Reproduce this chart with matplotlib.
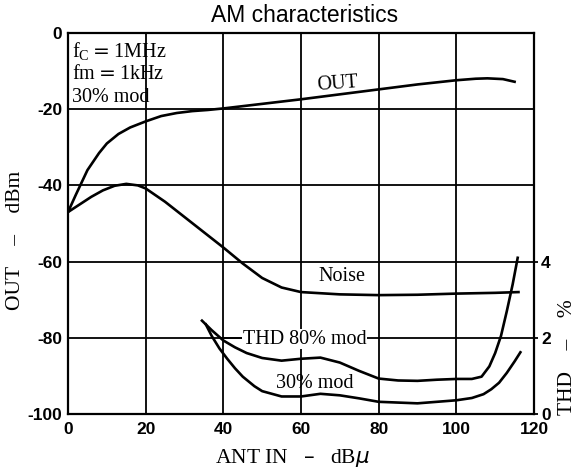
import matplotlib
matplotlib.use("Agg")
import matplotlib.pyplot as plt

# ---- data ----
out_x = [0, 2, 5, 8, 10, 13, 16, 20, 24, 28, 32, 36, 40, 50, 60, 70, 80, 90, 100, 105, 108, 112, 115]
out_y = [-47, -42.5, -36, -31.5, -29, -26.5, -24.8, -23.2, -21.8, -21.0, -20.5, -20.2, -19.8, -18.6, -17.4, -16.1, -14.8, -13.5, -12.4, -12.0, -11.9, -12.1, -12.8]

noise_x = [0, 3, 6, 9, 12, 15, 18, 20, 25, 30, 35, 40, 45, 50, 55, 60, 70, 80, 90, 100, 110, 116]
noise_y = [-47, -45, -43, -41.3, -40.1, -39.6, -40.0, -40.8, -44.3, -48.3, -52.3, -56.3, -60.5, -64.3, -66.8, -68.0, -68.6, -68.8, -68.7, -68.4, -68.2, -68.0]

thd80_x = [34.5, 37, 40, 43, 46, 50, 55, 60, 65, 70, 75, 80, 85, 90, 95, 100, 104, 106.5, 108.5, 110, 111.5, 113, 114.5, 115.8]
thd80_y = [2.45, 2.2, 1.93, 1.75, 1.6, 1.47, 1.4, 1.45, 1.48, 1.35, 1.13, 0.93, 0.88, 0.87, 0.9, 0.92, 0.92, 0.98, 1.25, 1.6, 2.05, 2.7, 3.4, 4.1]

thd30_x = [35.5, 37, 39, 41, 43, 45, 48, 50, 55, 60, 65, 70, 75, 80, 90, 100, 104, 107, 109, 111, 113, 115, 116.5]
thd30_y = [2.35, 2.05, 1.72, 1.45, 1.2, 0.98, 0.73, 0.6, 0.46, 0.46, 0.53, 0.49, 0.41, 0.32, 0.28, 0.36, 0.42, 0.52, 0.65, 0.82, 1.08, 1.38, 1.62]

x_ticks = [0, 20, 40, 60, 80, 100, 120]
y_ticks = [0, -20, -40, -60, -80, -100]
thd_ticks = [0, 2, 4]

# ---- figure ----
W, H = 577, 472
fig = plt.figure(figsize=(W / 100, H / 100), dpi=100)
ax = fig.add_axes([68 / W, 1 - 414 / H, (534 - 68) / W, (414 - 33) / H])
ax.set_xlim(0, 120)
ax.set_ylim(-100, 0)
ax.set_xticks(x_ticks)
ax.set_yticks(y_ticks)
tickfont = dict(family='Liberation Sans', fontweight='bold', fontsize=12.5)
ax.set_xticklabels([str(v) for v in x_ticks], **tickfont)
ax.set_yticklabels([str(v) for v in y_ticks], **tickfont)
ax.tick_params(axis='x', length=0, pad=6)
ax.tick_params(axis='y', length=0, pad=4)
ax.grid(True, color='black', linewidth=1.3)
for s in ax.spines.values():
    s.set_linewidth(1.6)
    s.set_color('black')

lw = 1.9
ax.plot(out_x, out_y, color='black', lw=lw)
ax.plot(noise_x, noise_y, color='black', lw=lw)

ax2 = ax.twinx()
ax2.set_ylim(0, 10)
ax2.set_yticks(thd_ticks)
ax2.set_yticklabels([str(v) for v in thd_ticks], **tickfont)
ax2.tick_params(length=3, width=1.3, direction='out', pad=2)
for s in ax2.spines.values():
    s.set_visible(False)
ax2.plot(thd80_x, thd80_y, color='black', lw=lw)
ax2.plot(thd30_x, thd30_y, color='black', lw=lw)

serif = 'Liberation Serif'
fs = 14.5
ax.text(1.0, -5.0, r'f$_\mathregular{C}$$=$1MHz', family=serif, fontsize=fs, va='center', ha='left')
ax.text(1.0, -11.0, 'fm$=$1kHz', family=serif, fontsize=fs, va='center', ha='left')
ax.text(1.0, -17.0, '30% mod', family=serif, fontsize=fs, va='center', ha='left')
ax.text(69.5, -13.3, 'OUT', family=serif, fontsize=fs, va='center', ha='center', rotation=4)
ax.text(70.5, -64.0, 'Noise', family=serif, fontsize=fs, va='center', ha='center')
ax.plot([40, 45], [-80, -80], color='black', lw=1.3)
ax.text(45.0, -80.4, 'THD 80% mod', family=serif, fontsize=fs, va='center', ha='left',
        bbox=dict(facecolor='white', edgecolor='none', pad=0.5))
ax.text(53.5, -92.0, '30% mod', family=serif, fontsize=fs, va='center', ha='left')

fig.text(305 / W, 1 - 16 / H, 'AM characteristics', family='Liberation Sans', fontsize=16.5,
         ha='center', va='center')
fig.text(293 / W, 1 - 458 / H, 'ANT IN   –   dB$\\mu$', family=serif, fontsize=15.5,
         ha='center', va='center')
fig.text(16 / W, 1 - 240 / H, 'OUT    –    dBm', family=serif, fontsize=15.5,
         ha='center', va='center', rotation=90)
fig.text(568 / W, 1 - 357 / H, 'THD    –    %', family=serif, fontsize=15.5,
         ha='center', va='center', rotation=90)

fig.savefig('out.png', dpi=100)
